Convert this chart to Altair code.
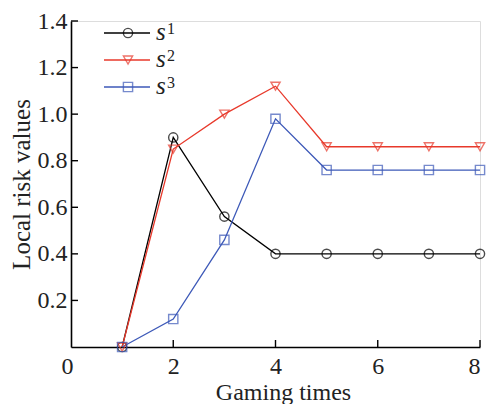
import altair as alt
import pandas as pd

x_vals = [1, 2, 3, 4, 5, 6, 7, 8]
s1 = [0.0, 0.90, 0.56, 0.40, 0.40, 0.40, 0.40, 0.40]
s2 = [0.0, 0.85, 1.00, 1.12, 0.86, 0.86, 0.86, 0.86]
s3 = [0.0, 0.12, 0.46, 0.98, 0.76, 0.76, 0.76, 0.76]
series_names = ["s1", "s2", "s3"]
legend_base = ["s", "s", "s"]
legend_sup = ["1", "2", "3"]
colors = ["#000000", "#e8392b", "#3d59b8"]
shapes = ["circle", "triangle-down", "square"]
x_ticks = [0, 2, 4, 6, 8]
y_ticks = [0.2, 0.4, 0.6, 0.8, 1.0, 1.2, 1.4]

FONT = "Liberation Serif"
W, H = 409, 326
TOP = 13

df = pd.DataFrame({
    "x": x_vals * 3,
    "y": s1 + s2 + s3,
    "series": sum([[n] * len(x_vals) for n in series_names], []),
})

xs = alt.Scale(domain=[0, 8], nice=False)
ys = alt.Scale(domain=[0, 1.4], nice=False)

x_axis = alt.Axis(values=x_ticks, ticks=False, grid=False, domainColor="black",
                  domainWidth=1.6, labelFontSize=24, labelColor="#222",
                  labelPadding=7, labelOffset=alt.ExprRef("datum.value == 0 ? -10 : 0"),
                  title="Gaming times", titleFontSize=24, titleBaseline="alphabetic",
                  titleX=212, titleY=52,
                  titleFontWeight="normal", titleColor="#222")
y_axis = alt.Axis(values=y_ticks, ticks=False, grid=False, domainColor="black",
                  domainWidth=1.6, format=".1f", labelFontSize=24,
                  labelColor="#222", labelPadding=4,
                  title="Local risk values", titleFontSize=25, titleBaseline="alphabetic",
                  titleX=-42, titleY=H / 2,
                  titleFontWeight="normal", titleColor="#222")

color_scale = alt.Scale(domain=series_names, range=colors)
shape_scale = alt.Scale(domain=series_names, range=shapes)

base = alt.Chart(df)
lines = base.mark_line(strokeWidth=1.3).encode(
    x=alt.X("x:Q", scale=xs, axis=x_axis),
    y=alt.Y("y:Q", scale=ys, axis=y_axis),
    color=alt.Color("series:N", scale=color_scale, legend=None),
)
points = base.mark_point(filled=False, size=85, strokeWidth=1.4).encode(
    x=alt.X("x:Q", scale=xs),
    y=alt.Y("y:Q", scale=ys),
    color=alt.Color("series:N", scale=color_scale, legend=None),
    shape=alt.Shape("series:N", scale=shape_scale, legend=None),
)

# inward tick marks
xt = pd.DataFrame({"t": x_ticks[1:]})
x_tick_marks = alt.Chart(xt).mark_rule(color="black", strokeWidth=1.4).encode(
    x=alt.X("t:Q", scale=xs), y=alt.value(H), y2=alt.value(H - 7))
yt = pd.DataFrame({"t": y_ticks})
y_tick_marks = alt.Chart(yt).mark_rule(color="black", strokeWidth=1.4).encode(
    y=alt.Y("t:Q", scale=ys), x=alt.value(0), x2=alt.value(7))

# manual legend
legend_layers = []
row_y = [12, 39, 66]
for i in range(3):
    ld = pd.DataFrame({"base": [legend_base[i]], "sup": [legend_sup[i]]})
    legend_layers.append(alt.Chart(ld).mark_rule(color=colors[i], strokeWidth=1.3).encode(
        x=alt.value(33), x2=alt.value(79), y=alt.value(row_y[i])))
    legend_layers.append(alt.Chart(ld).mark_point(shape=shapes[i], color=colors[i], filled=False,
                                                  size=85, strokeWidth=1.4).encode(
        x=alt.value(57), y=alt.value(row_y[i])))
    legend_layers.append(alt.Chart(ld).mark_text(fontSize=25, fontStyle="italic",
                                                 align="left", baseline="alphabetic", color="#222").encode(
        x=alt.value(85), y=alt.value(row_y[i] + 7), text="base:N"))
    legend_layers.append(alt.Chart(ld).mark_text(fontSize=16,
                                                 align="left", baseline="alphabetic", color="#222").encode(
        x=alt.value(96), y=alt.value(row_y[i] + 1), text="sup:N"))

chart = alt.layer(lines, points, x_tick_marks, y_tick_marks, *legend_layers).properties(
    width=W, height=H,
    autosize=alt.AutoSizeParams(type="none"),
    padding={"left": 63, "top": TOP, "right": 6, "bottom": 57},
).configure_view(stroke=None).configure(background="white", font=FONT)

chart.save("out.html", embed_options={"renderer": "svg", "actions": False})
